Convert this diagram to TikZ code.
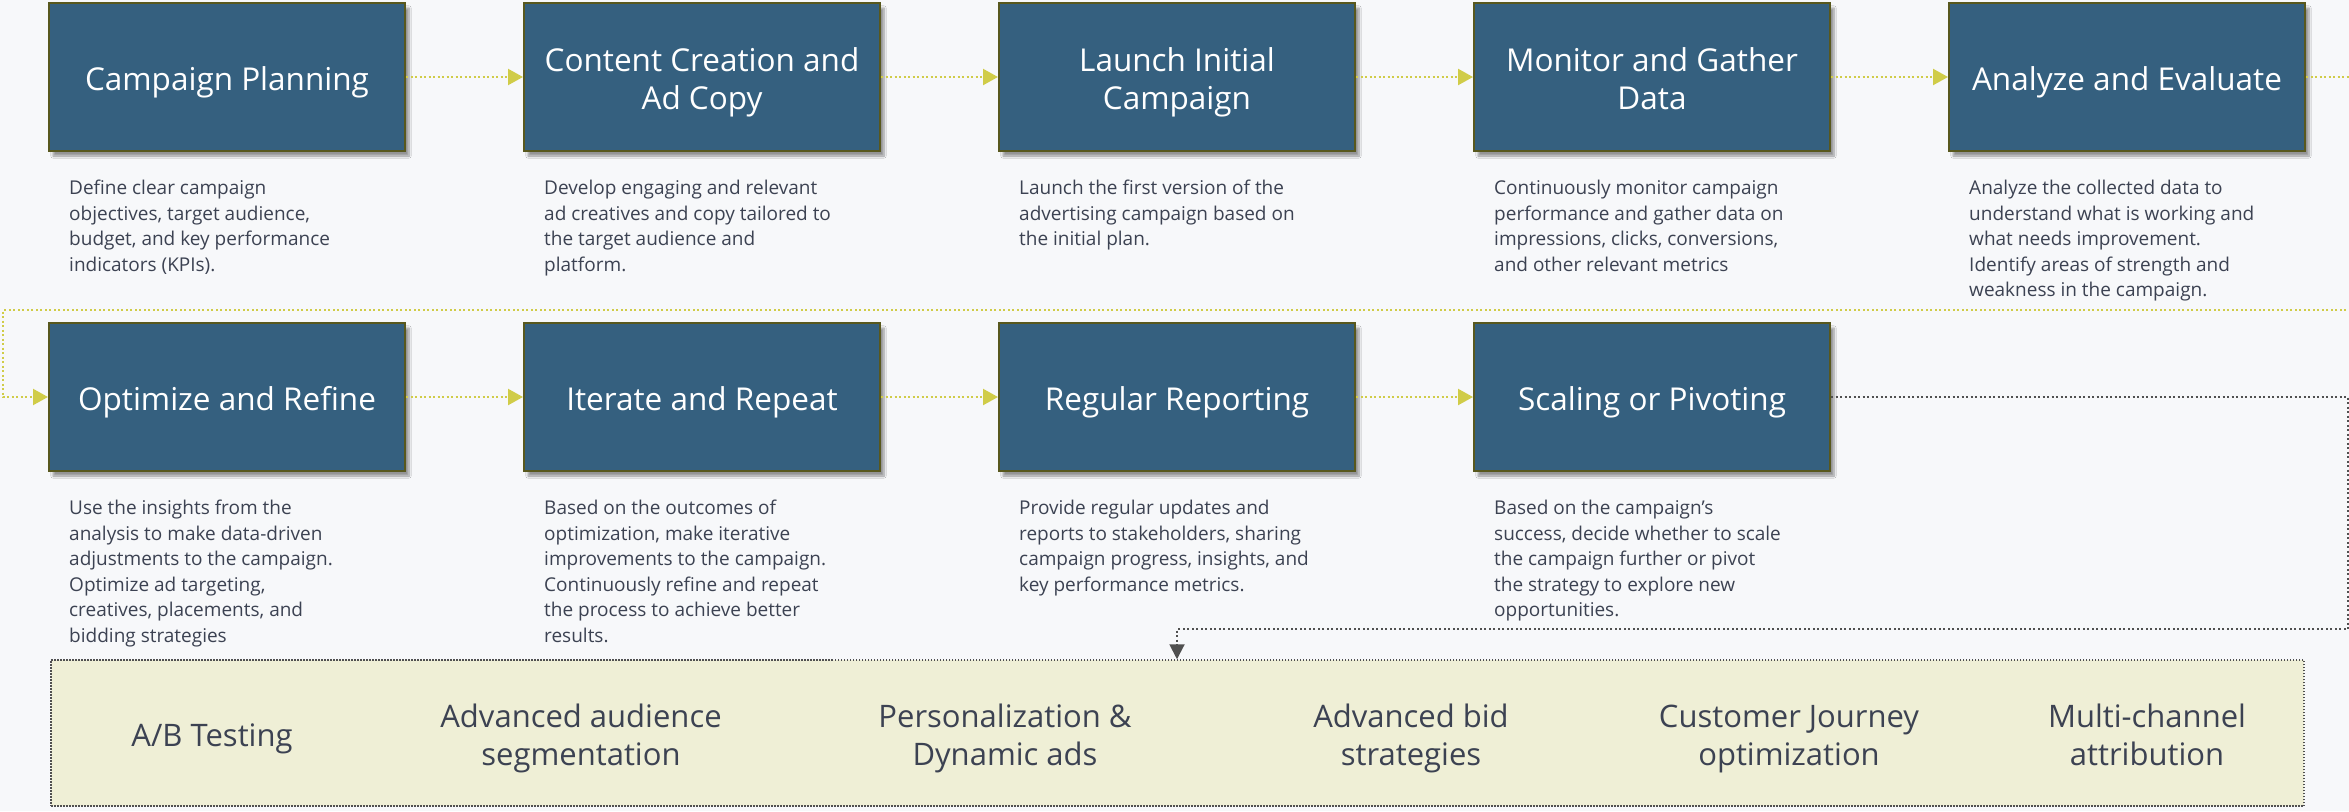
\documentclass[tikz,border=0pt]{standalone}
\usepackage{fontspec}
\setmainfont{Open Sans}
\usetikzlibrary{arrows.meta,shadows.blur}
\definecolor{boxblue}{RGB}{53,96,127}
\definecolor{boxedge}{RGB}{88,88,30}
\definecolor{flowyellow}{RGB}{208,204,72}
\definecolor{textgray}{RGB}{60,66,82}
\definecolor{panelfill}{RGB}{239,239,214}
\definecolor{paper}{RGB}{247,248,250}
\definecolor{loopgray}{RGB}{80,80,80}
\begin{document}
\begin{tikzpicture}[x=1pt,y=-1pt]
\tikzstyle{padtext}=[text height=36pt,text depth=10pt]
\tikzstyle{tall}=[text height=74pt]
\tikzstyle{stepbox}=[draw=boxedge,line width=2pt,fill=boxblue,minimum width=356pt,minimum height=148pt,inner sep=0pt,align=center,text=white,font=\fontsize{31.5}{38}\selectfont,padtext,blur shadow={shadow xshift=4pt,shadow yshift=-5pt,shadow blur steps=8,shadow opacity=40}]
\tikzstyle{desc}=[anchor=north west,inner sep=0pt,align=left,text=textgray,font=\fontsize{19}{25.5}\selectfont]
\tikzstyle{flow}=[flowyellow,line width=2.2pt,dash pattern=on 2pt off 2.5pt,-{Triangle[length=15pt,width=16pt]}]
\tikzstyle{back}=[loopgray,line width=2pt,dash pattern=on 2pt off 2.5pt,-{Triangle[length=15pt,width=15pt]}]
\tikzstyle{panel}=[draw=loopgray,line width=1.5pt,dash pattern=on 1.5pt off 1.5pt,fill=panelfill,minimum width=2253pt,minimum height=146pt,inner sep=0pt]
\tikzstyle{idea}=[align=center,inner sep=0pt,text=textgray,font=\fontsize{31}{37.5}\selectfont,padtext]
\useasboundingbox (0,0) rectangle (2349,811);
\fill[paper] (0,0) rectangle (2349,811);
\node[stepbox](b1) at (227,77) {Campaign Planning};
\node[stepbox,tall](b2) at (702,77) {Content Creation and\\Ad Copy};
\node[stepbox,tall](b3) at (1177,77) {Launch Initial\\Campaign};
\node[stepbox,tall](b4) at (1652,77) {Monitor and Gather\\Data};
\node[stepbox](b5) at (2127,77) {Analyze and Evaluate};
\node[stepbox](b6) at (227,397) {Optimize and Refine};
\node[stepbox](b7) at (702,397) {Iterate and Repeat};
\node[stepbox](b8) at (1177,397) {Regular Reporting};
\node[stepbox](b9) at (1652,397) {Scaling or Pivoting};
\node[desc](d1) at ([xshift=21pt,yshift=-28pt]b1.south west) {Define clear campaign\\objectives, target audience,\\budget, and key performance\\indicators (KPIs).};
\node[desc](d2) at ([xshift=21pt,yshift=-28pt]b2.south west) {Develop engaging and relevant\\ad creatives and copy tailored to\\the target audience and\\platform.};
\node[desc](d3) at ([xshift=21pt,yshift=-28pt]b3.south west) {Launch the first version of the\\advertising campaign based on\\the initial plan.};
\node[desc](d4) at ([xshift=21pt,yshift=-28pt]b4.south west) {Continuously monitor campaign\\performance and gather data on\\impressions, clicks, conversions,\\and other relevant metrics};
\node[desc](d5) at ([xshift=21pt,yshift=-28pt]b5.south west) {Analyze the collected data to\\understand what is working and\\what needs improvement.\\Identify areas of strength and\\weakness in the campaign.};
\node[desc](d6) at ([xshift=21pt,yshift=-28pt]b6.south west) {Use the insights from the\\analysis to make data-driven\\adjustments to the campaign.\\Optimize ad targeting,\\creatives, placements, and\\bidding strategies};
\node[desc](d7) at ([xshift=21pt,yshift=-28pt]b7.south west) {Based on the outcomes of\\optimization, make iterative\\improvements to the campaign.\\Continuously refine and repeat\\the process to achieve better\\results.};
\node[desc](d8) at ([xshift=21pt,yshift=-28pt]b8.south west) {Provide regular updates and\\reports to stakeholders, sharing\\campaign progress, insights, and\\key performance metrics.};
\node[desc](d9) at ([xshift=21pt,yshift=-28pt]b9.south west) {Based on the campaign's\\success, decide whether to scale\\the campaign further or pivot\\the strategy to explore new\\opportunities.};
\node[panel](panel) at (1177.5,733) {};
\node[idea](t1) at (212,733) {A/B Testing};
\node[idea,tall](t2) at (581,733) {Advanced audience\\segmentation};
\node[idea,tall](t3) at (1005,733) {Personalization \&\\Dynamic ads};
\node[idea,tall](t4) at (1411,733) {Advanced bid\\strategies};
\node[idea,tall](t5) at (1789,733) {Customer Journey\\optimization};
\node[idea,tall](t6) at (2147,733) {Multi-channel\\attribution};
\coordinate (wr) at (2358,310);
\coordinate (wl) at (3,310);
\coordinate (sr) at (2348,629);
\coordinate (sl) at (1177,629);
\draw[flow] (b1) -- (b2);
\draw[flow] (b2) -- (b3);
\draw[flow] (b3) -- (b4);
\draw[flow] (b4) -- (b5);
\draw[flow] (b5.east) -| (wr) -- (wl) |- (b6.west);
\draw[flow] (b6) -- (b7);
\draw[flow] (b7) -- (b8);
\draw[flow] (b8) -- (b9);
\draw[back] (b9.east) -| (sr) -- (sl) -- (sl |- panel.north);
\end{tikzpicture}
\end{document}
